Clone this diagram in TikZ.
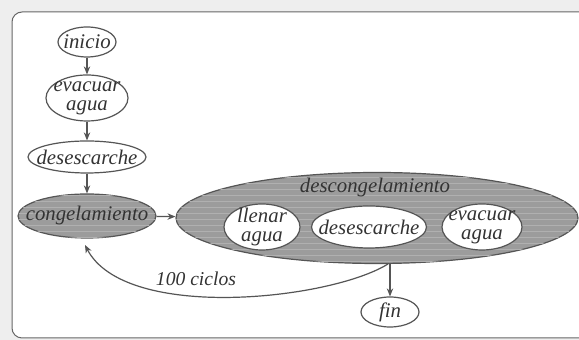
\documentclass[tikz,border=0pt]{standalone}
\usepackage{fontspec}
\setmainfont{Liberation Serif}
\usetikzlibrary{shapes.geometric,arrows.meta,patterns}
\definecolor{bgc}{HTML}{EEEEEE}
\definecolor{framec}{HTML}{666666}
\definecolor{linec}{HTML}{555555}
\definecolor{txtc}{HTML}{333333}
\definecolor{fillc}{HTML}{9C9C9C}
\definecolor{stripec}{HTML}{B0B0B0}
\begin{document}
\begin{tikzpicture}[x=0.5pt,y=-0.5pt,
  txt/.style={text=txtc,font=\fontsize{10.4}{9.6}\selectfont\itshape,align=center,inner sep=0pt},
  st/.style={ellipse,draw=linec,line width=0.6pt,fill=white,inner sep=0pt},
  dark/.style={st,fill=fillc,postaction={pattern=horizontal lines,pattern color=stripec}},
  arr/.style={draw=linec,line width=0.6pt,-{Stealth[length=4pt,width=3.2pt]}}]
\useasboundingbox (0,0) rectangle (579,340);
\fill[bgc] (0,0) rectangle (579,340);
\draw[framec,fill=white,line width=0.5pt,rounded corners=5pt] (12,12) rectangle (600,338);
\node[st,minimum width=29pt,minimum height=15pt] (ini) at (87,42) {};
\node[txt] (inil) at (87,42) {inicio};
\node[st,minimum width=41pt,minimum height=23pt] (eva) at (87,98) {};
\node[txt] (eval) at (87,98) {evacuar\\agua};
\node[st,minimum width=59pt,minimum height=16pt] (des) at (87,157) {};
\node[txt] (desl) at (87,157) {desescarche};
\node[dark,minimum width=69pt,minimum height=22pt] (con) at (87,216) {};
\node[txt] (conl) at (87,216) {congelamiento};
\node[dark,minimum width=201pt,minimum height=45.5pt] (big) at (377,218) {};
\node[txt] (bigl) at (375,188) {descongelamiento};
\node[st,minimum width=38pt,minimum height=23pt] (lle) at (262,227) {};
\node[txt] (llel) at (262,227) {llenar\\agua};
\node[st,minimum width=57.5pt,minimum height=21pt] (des2) at (369,227) {};
\node[txt] (des2l) at (369,227) {desescarche};
\node[st,minimum width=40pt,minimum height=23pt] (eva2) at (482,227) {};
\node[txt] (eva2l) at (482,227) {evacuar\\agua};
\node[st,minimum width=29pt,minimum height=15pt] (fin) at (390,312) {};
\node[txt] (finl) at (390,312) {fin};
\coordinate (bb) at (390,263);
\coordinate (cs) at (388,264);
\coordinate (ce) at (85,245);
\draw[arr] (ini) -- (eva);
\draw[arr] (eva) -- (des);
\draw[arr] (des) -- (con);
\draw[arr] (con) -- (big);
\draw[arr] (bb) -- (fin);
\draw[arr] (cs) .. controls (330,300) and (125,322) .. (ce);
\node[txt,font=\fontsize{9.8}{10}\selectfont\itshape] (cic) at (196,279) {100 ciclos};
\end{tikzpicture}
\end{document}
